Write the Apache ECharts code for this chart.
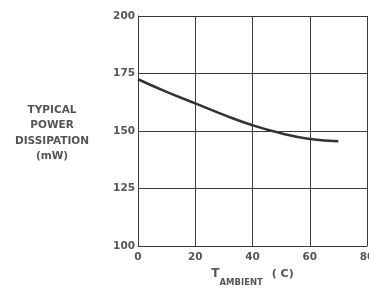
<!DOCTYPE html>
<html>
<head>
<meta charset="utf-8">
<script src="https://cdn.jsdelivr.net/npm/echarts@6/dist/echarts.min.js"></script>
<style>
html,body{margin:0;padding:0;background:#fff;}
#c{width:369px;height:288px;}
</style>
</head>
<body>
<div id="c"></div>
<script>
const temps = [0, 10, 20, 30, 40, 50, 60, 70];
const power = [172.5, 167, 162, 157, 152.5, 149, 146.5, 145.5];
const yTicks = [100, 125, 150, 175, 200];
const xTicks = [0, 20, 40, 60, 80];
const yTitle = 'TYPICAL\nPOWER\nDISSIPATION\n(mW)';

const FF = '"DejaVu Sans", "Liberation Sans", Arial, sans-serif';
const txtCol = '#555';
const chart = echarts.init(document.getElementById('c'));
const lineCol = '#3a3a3a';
chart.setOption({
  animation: false,
  backgroundColor: '#fff',
  grid: {left: 138, right: 2, top: 16, bottom: 42, containLabel: false, outerBoundsMode: 'none'},
  graphic: [{
    type: 'text', x: 52, y: 102,
    style: {
      text: yTitle,
      textAlign: 'center', textVerticalAlign: 'top',
      font: 'bold 10.5px ' + FF,
      lineHeight: 15.6, fill: txtCol
    }
  }],
  xAxis: {
    type: 'value', min: 0, max: 80, interval: 20,
    name: '{t|T}{sub|AMBIENT}{u| ( C)}',
    nameLocation: 'middle', nameGap: 20,
    nameTextStyle: {
      color: txtCol, fontFamily: FF,
      rich: {
        t: {fontSize: 12, fontWeight: 'bold', color: txtCol, fontFamily: FF, verticalAlign: 'top', padding: [0, 0, 0, 0]},
        sub: {fontSize: 8.5, fontWeight: 'bold', color: txtCol, fontFamily: FF, verticalAlign: 'top', padding: [10, 5, 0, 0]},
        u: {fontSize: 11, fontWeight: 'bold', color: txtCol, fontFamily: FF, verticalAlign: 'top', padding: [1, 0, 0, 0]}
      }
    },
    axisLine: {show: true, lineStyle: {color: lineCol, width: 1}},
    axisTick: {show: false},
    axisLabel: {color: txtCol, fontSize: 10.5, fontWeight: 'bold', margin: 6, fontFamily: FF,
      formatter: v => xTicks.includes(v) ? String(v) : ''},
    splitLine: {show: true, lineStyle: {color: lineCol, width: 1}}
  },
  yAxis: {
    type: 'value', min: 100, max: 200, interval: 25,
    axisLine: {show: true, lineStyle: {color: lineCol, width: 1}},
    axisTick: {show: false},
    axisLabel: {color: txtCol, fontSize: 10.5, fontWeight: 'bold', margin: 3, fontFamily: FF,
      formatter: v => yTicks.includes(v) ? String(v) : ''},
    splitLine: {show: true, lineStyle: {color: lineCol, width: 1}}
  },
  series: [{
    type: 'line', smooth: true, showSymbol: false,
    data: temps.map((t, i) => [t, power[i]]),
    lineStyle: {color: '#333', width: 2.5}
  }]
});
</script>
</body>
</html>
